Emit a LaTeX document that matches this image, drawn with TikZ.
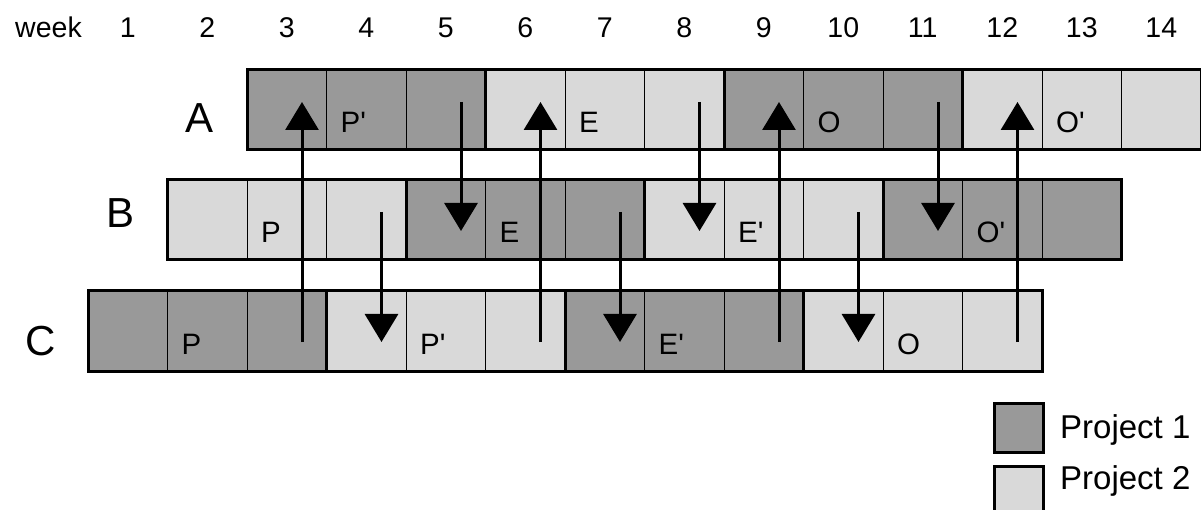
\documentclass[tikz,border=0pt]{standalone}
\usepackage{fontspec}
\setmainfont{Liberation Sans}
\usetikzlibrary{arrows.meta,calc}
\definecolor{pone}{HTML}{999999}
\definecolor{ptwo}{HTML}{D9D9D9}
\newcommand{\pr}{\textquotesingle}
\tikzset{
  cell/.style={draw=black, line width=1pt, minimum width=79.5pt, minimum height=80pt,
    inner sep=0pt, outer sep=0pt, anchor=north west},
  grp/.style={draw=black, line width=3pt},
  lab/.style={inner sep=0pt, anchor=base west, font=\fontsize{29.5}{29.5}\selectfont},
  rowlab/.style={inner sep=0pt, anchor=base, font=\fontsize{42}{42}\selectfont},
  hdr/.style={inner sep=0pt, anchor=base, font=\fontsize{28.5}{28.5}\selectfont},
  legbox/.style={draw=black, line width=3pt, minimum size=49pt, inner sep=0pt, anchor=north west},
  legtxt/.style={inner sep=0pt, anchor=base west, font=\fontsize{33}{33}\selectfont},
  flow/.style={line width=3pt, -{Triangle[length=28pt,width=33pt]}},
}
\begin{document}
\begin{tikzpicture}[x=1pt,y=-1pt]
\useasboundingbox (0,0) rectangle (1201,510);
% header
\node[hdr] (wk) at (48.5,38) {week};
\foreach \k in {1,...,14}{
  \node[hdr] (wk\k) at ({88+(\k-1)*79.5+39.75},38) {\k};
}
% rows
\foreach \r/\first/\top/\off in {A/3/70/0,B/2/180/1,C/1/291/0}{
  \foreach \i in {0,...,11}{
    \pgfmathtruncatemacro\k{\first+\i}
    \pgfmathtruncatemacro\g{mod(floor(\i/3)+\off,2)}
    \ifnum\g=0 \def\col{pone}\else\def\col{ptwo}\fi
    \node[cell, fill=\col] (\r\k) at ({88+(\k-1)*79.5},\top) {};
    \coordinate (\r hi\k) at ($(\r\k.north west)+(55,32)$);
    \coordinate (\r lo\k) at ($(\r\k.north west)+(55,51)$);
  }
}
% group outlines
\foreach \r/\a/\b in {A/3/5,A/6/8,A/9/11,A/12/14,B/2/4,B/5/7,B/8/10,B/11/13,C/1/3,C/4/6,C/7/9,C/10/12}{
  \draw[grp] (\r\a.north west) rectangle (\r\b.south east);
}
% row labels
\node[rowlab] (rA) at (200,133) {A};
\node[rowlab] (rB) at (121,228) {B};
\node[rowlab] (rC) at (40.5,355) {C};
% cell labels
\foreach \r/\k/\t in {A/4/{P\pr},A/7/E,A/10/O,A/13/{O\pr},B/3/P,B/6/E,B/9/{E\pr},B/12/{O\pr},C/2/P,C/5/{P\pr},C/8/{E\pr},C/11/O}{
  \node[lab] (t\r\k) at ($(\r\k.north west)+(14,63)$) {\t};
}
% arrows
\foreach \k in {3,6,9,12}{ \draw[flow] (Clo\k) -- (Ahi\k); }
\foreach \k in {5,8,11}{ \draw[flow] (Ahi\k) -- (Blo\k); }
\foreach \k in {4,7,10}{ \draw[flow] (Bhi\k) -- (Clo\k); }
% legend
\node[legbox, fill=pone] (L1) at (993,402) {};
\node[legbox, fill=ptwo] (L2) at (993,465) {};
\node[legtxt] (L1t) at (1060,438) {Project 1};
\node[legtxt] (L2t) at (1060,489) {Project 2};
\end{tikzpicture}
\end{document}
